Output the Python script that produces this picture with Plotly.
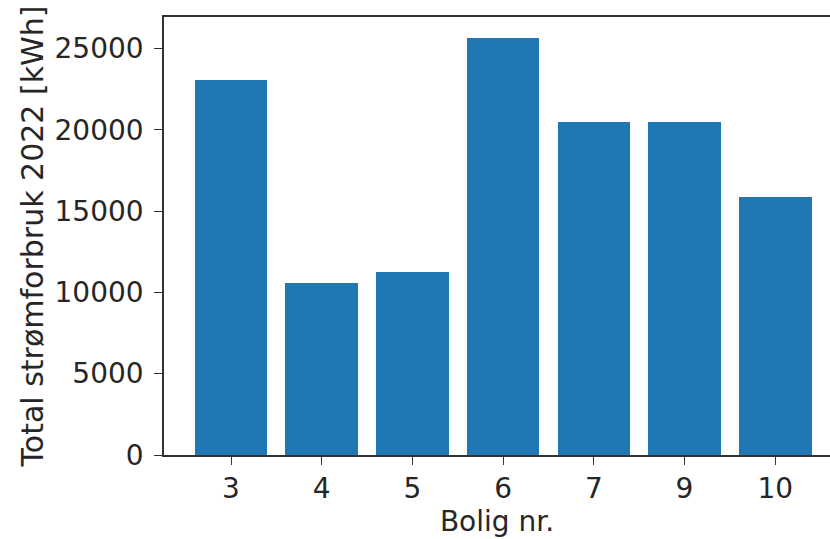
import plotly.graph_objects as go

# Annual electricity use per dwelling
boliger = ["3", "4", "5", "6", "7", "9", "10"]
forbruk_kwh = [23050, 10550, 11280, 25650, 20450, 20450, 15850]
y_ticks = [0, 5000, 10000, 15000, 20000, 25000]

positions = list(range(len(boliger)))
font = dict(family="DejaVu Sans", size=28, color="#262626")
ytitle_font = dict(family="DejaVu Sans", size=30, color="#262626")

fig = go.Figure(
    go.Bar(
        x=positions,
        y=forbruk_kwh,
        width=0.8,
        marker=dict(color="#1f77b4", line=dict(width=0)),
    )
)

fig.update_layout(
    width=830,
    height=539,
    margin=dict(l=164, r=0, t=17, b=84),
    plot_bgcolor="white",
    paper_bgcolor="white",
    font=font,
    showlegend=False,
    bargap=0,
)

fig.update_xaxes(
    range=[-0.739, 6.604],
    tickmode="array",
    tickvals=positions,
    ticktext=boliger,
    showgrid=False,
    zeroline=False,
    showline=True,
    linecolor="#333333",
    linewidth=1.6,
    mirror=True,
    ticks="outside",
    ticklen=8,
    tickwidth=1.4,
    tickcolor="#333333",
    ticklabelstandoff=0,
    title=dict(text="Bolig nr.", font=font, standoff=2),
)

fig.update_yaxes(
    range=[0, 26932],
    tickmode="array",
    tickvals=y_ticks,
    ticktext=[str(v) for v in y_ticks],
    showgrid=False,
    zeroline=False,
    showline=True,
    linecolor="#333333",
    linewidth=1.6,
    ticks="outside",
    ticklen=8,
    tickwidth=1.4,
    tickcolor="#333333",
    ticklabelstandoff=5,
    title=dict(text="Total strømforbruk 2022 [kWh]", font=ytitle_font, standoff=2),
)

fig.write_html("out.html")
